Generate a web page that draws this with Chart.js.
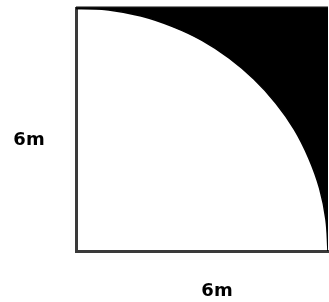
<!DOCTYPE html>
<html>
<head>
<meta charset="utf-8">
<script src="https://cdn.jsdelivr.net/npm/chart.js@4"></script>
<style>
  html, body { margin: 0; padding: 0; background: #fff; }
  canvas { display: block; }
</style>
</head>
<body>
<canvas id="quarterChart" width="329" height="302"></canvas>
<script>
// side length of the square, in metres
const sideLength = 6;
const sideLabels = ['6m', '6m']; // left, bottom

// points along the quarter-circle edge (x, y)
const arcX = [0, 0.78, 1.55, 2.30, 3.00, 3.65, 4.24, 4.76, 5.20, 5.54, 5.80, 5.95, 6];
const arcY = [6, 5.95, 5.80, 5.54, 5.20, 4.76, 4.24, 3.65, 3.00, 2.30, 1.55, 0.78, 0];

// top side of the square
const topX = [0, 6];
const topY = [6, 6];

const arcPoints = arcX.map((x, i) => ({ x: x, y: arcY[i] }));
const topPoints = topX.map((x, i) => ({ x: x, y: topY[i] }));

// labels "6m" next to the left and bottom sides
const sideLabelPlugin = {
    id: 'sideLabels',
    afterDraw(chart) {
        const ctx = chart.ctx;
        ctx.save();
        ctx.font = 'bold 18px "DejaVu Sans"';
        ctx.fillStyle = '#000';
        ctx.textAlign = 'center';
        ctx.textBaseline = 'middle';
        ctx.fillText(sideLabels[0], 29, 140);
        ctx.fillText(sideLabels[1], 217, 291);
        ctx.restore();
    }
};

const ctxQuarter = document.getElementById('quarterChart').getContext('2d');
const quarterChart = new Chart(ctxQuarter, {
    type: 'scatter',
    data: {
        datasets: [{
            label: 'shaded',
            data: arcPoints,
            showLine: true,
            tension: 0.4,
            borderColor: '#000',
            borderWidth: 1.5,
            backgroundColor: '#000',
            pointRadius: 0,
            fill: { value: sideLength }
        }, {
            label: 'top',
            data: topPoints,
            showLine: true,
            borderColor: '#111',
            borderWidth: 3,
            pointRadius: 0,
            fill: false,
            clip: 3
        }]
    },
    options: {
        responsive: false,
        animation: false,
        layout: {
            padding: { top: 8, right: 1, left: 0, bottom: 0 }
        },
        plugins: {
            legend: { display: false },
            tooltip: { enabled: false }
        },
        scales: {
            x: {
                min: 0,
                max: sideLength,
                grid: { display: false },
                ticks: { display: false },
                border: { display: true, color: '#3a3a3a', width: 3 },
                afterFit(scale) { scale.height = 51; }
            },
            y: {
                min: 0,
                max: sideLength,
                grid: { display: false },
                ticks: { display: false },
                border: { display: true, color: '#3a3a3a', width: 3 },
                afterFit(scale) { scale.width = 76; }
            }
        }
    },
    plugins: [sideLabelPlugin]
});
</script>
</body>
</html>
